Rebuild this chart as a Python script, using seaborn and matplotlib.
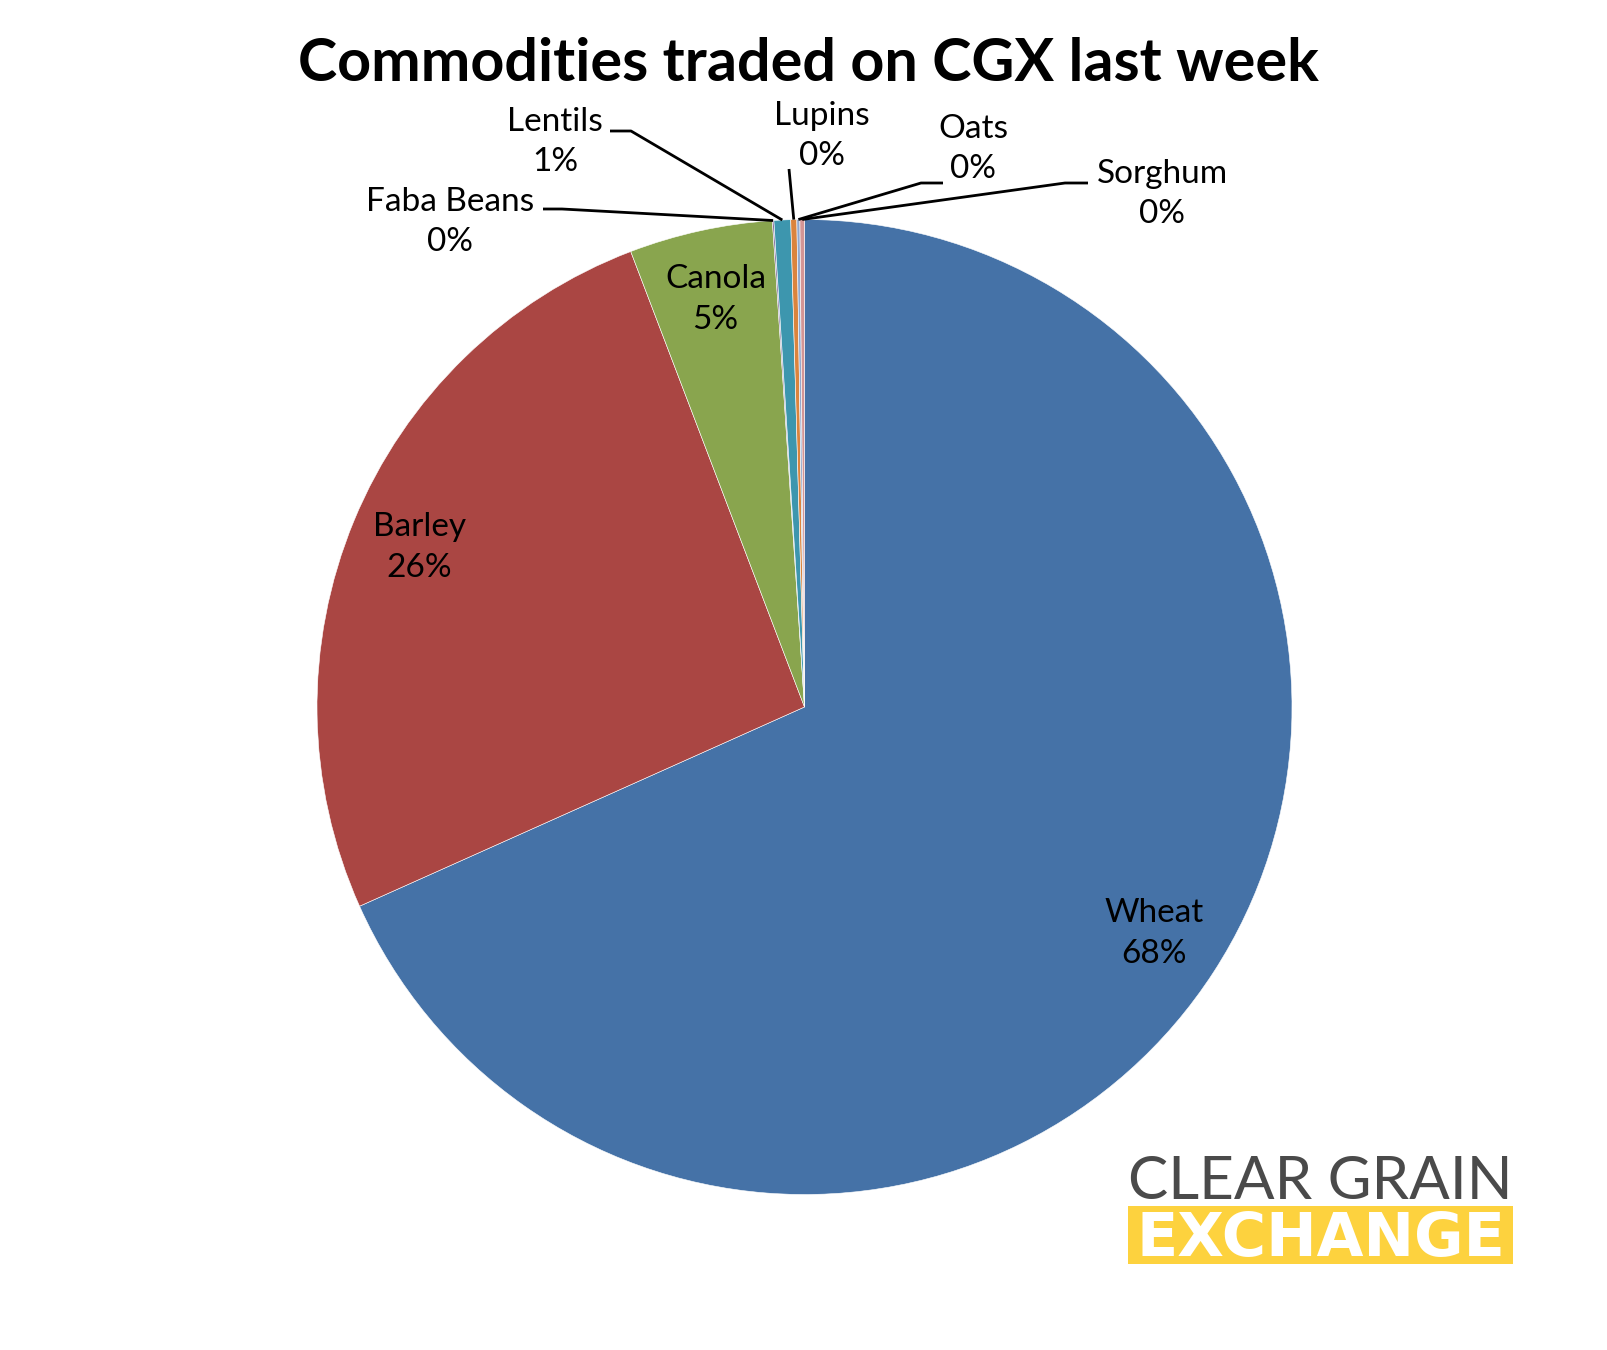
import matplotlib
matplotlib.use('Agg')
import matplotlib.pyplot as plt
import seaborn as sns
import numpy as np
from matplotlib.patches import Rectangle

# share of volume traded, percent
commodities = ['Wheat', 'Barley', 'Canola', 'Faba Beans', 'Lentils', 'Lupins', 'Oats', 'Sorghum']
share = [68.3, 25.9, 4.75, 0.05, 0.55, 0.2, 0.1, 0.15]
colors = ['#4572A7', '#AA4643', '#89A54E', '#80699B', '#3D96AE', '#DB843D', '#92A8CD', '#D39595']
TITLE = 'Commodities traded on CGX last week'

W, H = 1608, 1350
CX, CY, R = 804.5, 707, 487.5

sns.set_theme(style='white')
plt.rcParams['font.family'] = ['Lato', 'DejaVu Sans']


def to_data(px, py):
    return (px - CX) / R, (CY - py) / R


def fit_width(fig, txt, target_px):
    # scale the font size so that the text spans target_px
    r = fig.canvas.get_renderer()
    w = txt.get_window_extent(renderer=r).width
    txt.set_fontsize(txt.get_fontsize() * target_px / w)


fig = plt.figure(figsize=(W / 100, H / 100), dpi=100)
fig.patch.set_facecolor('white')
ax = fig.add_axes([(CX - R) / W, (H - CY - R) / H, 2 * R / W, 2 * R / H])

wedges, _ = ax.pie(share, colors=colors, startangle=90, counterclock=False, radius=1,
                   wedgeprops=dict(edgecolor='white', linewidth=0.4))
ax.set_xlim(-1, 1)
ax.set_ylim(-1, 1)
ax.axis('off')

LABEL_SIZE = 24
LINESP = 1.45

# labels inside the big slices
for i in range(3):
    w = wedges[i]
    mid = np.deg2rad((w.theta1 + w.theta2) / 2)
    ax.text(0.855 * np.cos(mid), 0.855 * np.sin(mid), f'{commodities[i]}\n{share[i]:.0f}%',
            ha='center', va='center', fontsize=LABEL_SIZE, linespacing=LINESP, color='black')

# small slices: label position (px), leader start (px), optional stub end (px)
outer = {
    'Faba Beans': ((450, 222), (543, 209), (562, 209)),
    'Lentils': ((555, 142), (610, 131), (631, 131)),
    'Lupins': ((822, 136), (789, 169), None),
    'Oats': ((973, 149), (943, 183), (921, 183)),
    'Sorghum': ((1162, 194), (1088, 183), (1065, 183)),
}
for i in range(3, len(commodities)):
    name = commodities[i]
    lab, start, stub = outer[name]
    w = wedges[i]
    mid = np.deg2rad((w.theta1 + w.theta2) / 2)
    end = (np.cos(mid), np.sin(mid))
    pts = [to_data(*start)]
    if stub is not None:
        pts.append(to_data(*stub))
    pts.append(end)
    xs, ys = zip(*pts)
    ax.plot(xs, ys, color='black', lw=2, clip_on=False, solid_capstyle='butt')
    lx, ly = to_data(*lab)
    ax.text(lx, ly, f'{name}\n{share[i]:.0f}%', ha='center', va='center',
            fontsize=LABEL_SIZE, linespacing=LINESP, color='black')

title = fig.text(808 / W, 1 - 64 / H, TITLE, ha='center', va='center',
                 fontsize=44, fontweight='bold', color='black')
fit_width(fig, title, 1019)

# logo in the lower right
clear = fig.text(1128 / W, (H - 1199) / H, 'CLEAR GRAIN', ha='left', va='baseline',
                 fontsize=40, fontweight='normal', color='#4A4A4A')
fit_width(fig, clear, 385)
fig.patches.append(Rectangle((1128 / W, (H - 1264) / H), 385 / W, 58 / H,
                             transform=fig.transFigure, facecolor='#FDD23E', edgecolor='none'))
exch = fig.text(1320.5 / W, (H - 1256) / H, 'EXCHANGE', ha='center', va='baseline',
                fontsize=30, fontweight='bold', color='white', family='DejaVu Sans')
fit_width(fig, exch, 370)

fig.savefig('out.png', dpi=100, facecolor='white')
